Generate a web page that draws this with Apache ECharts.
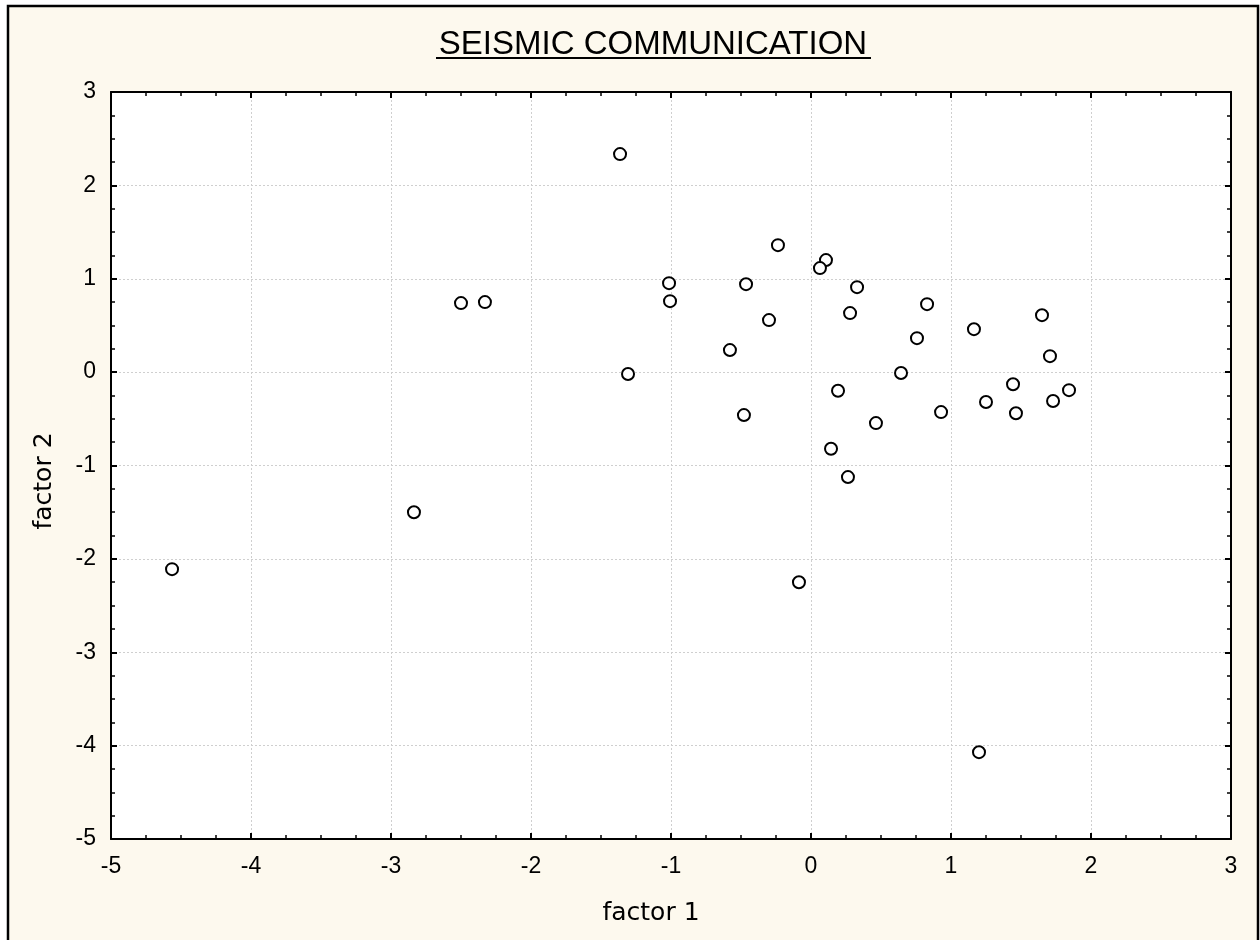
<!DOCTYPE html>
<html>
<head>
<meta charset="utf-8">
<script src="https://cdn.jsdelivr.net/npm/echarts@6/dist/echarts.min.js"></script>
<style>
html,body{margin:0;padding:0;background:#ffffff;}
#chart{width:1260px;height:940px;}
</style>
</head>
<body>
<div id="chart"></div>
<script>
const titleText = 'SEISMIC COMMUNICATION';
const xName = 'factor 1';
const yName = 'factor 2';
const xTicks = [-5, -4, -3, -2, -1, 0, 1, 2, 3];
const yTicks = [-5, -4, -3, -2, -1, 0, 1, 2, 3];
const factor1 = [-1.364, -2.500, -2.329, -1.014, -1.007, -1.307, -2.836, -4.564, -0.236, 0.107,
                 0.064, -0.464, 0.329, -0.300, 0.279, 0.829, -0.579, 0.757, 1.164, 1.650,
                 1.707, 0.643, 0.193, -0.479, 0.464, 0.929, 1.250, 1.443, 1.464, 1.729,
                 1.843, 0.143, 0.264, -0.086, 1.200];
const factor2 = [2.335, 0.739, 0.750, 0.953, 0.760, -0.020, -1.500, -2.110, 1.360, 1.200,
                 1.114, 0.942, 0.910, 0.557, 0.632, 0.728, 0.236, 0.364, 0.460, 0.610,
                 0.171, -0.010, -0.200, -0.460, -0.546, -0.428, -0.320, -0.130, -0.440, -0.310,
                 -0.193, -0.820, -1.124, -2.250, -4.070];

const points = factor1.map((x, i) => [x, factor2[i]]);

const chart = echarts.init(document.getElementById('chart'), null, {renderer: 'canvas'});

const tickFont = {color: '#000', fontSize: 23, fontFamily: 'Liberation Sans, Arial, sans-serif'};
const nameFont = 'DejaVu Sans, Verdana, sans-serif';

function mkAxis(pos, isX, show) {
  const ticks = isX ? xTicks : yTicks;
  return {
    type: 'value',
    position: pos,
    min: ticks[0],
    max: ticks[ticks.length - 1],
    interval: 1,
    axisLine: {show: true, onZero: false, lineStyle: {color: '#000', width: 2}},
    axisTick: {show: true, inside: true, length: 6, lineStyle: {color: '#000', width: 2}},
    minorTick: {show: true, splitNumber: 4, length: 4, lineStyle: {color: '#000', width: 1.5}},
    splitLine: {show: show, lineStyle: {color: '#cfcfcf', type: [2, 2], width: 1}},
    axisLabel: show ? Object.assign({show: true, margin: isX ? 16 : 15}, tickFont) : {show: false}
  };
}

const option = {
  backgroundColor: '#ffffff',
  animation: false,
  graphic: [
    {type: 'rect', z: -10, silent: true, shape: {x: 8, y: 6, width: 1250, height: 950},
     style: {fill: '#fdf9ee', stroke: '#000', lineWidth: 2.5}},
    {type: 'rect', z: -5, silent: true, shape: {x: 111, y: 92, width: 1120, height: 747},
     style: {fill: '#ffffff'}},
    {type: 'text', x: 653, y: 45, style: {text: titleText, fill: '#000', fontSize: 33,
      fontFamily: 'Liberation Sans, Arial, sans-serif', align: 'center', verticalAlign: 'middle'}},
    {type: 'line', shape: {x1: 436, y1: 58, x2: 871, y2: 58}, style: {stroke: '#000', lineWidth: 2}},
    {type: 'text', x: 651, y: 913, style: {text: xName, fill: '#000', fontSize: 25,
      fontFamily: nameFont, align: 'center', verticalAlign: 'middle'}},
    {type: 'text', x: 44, y: 481, rotation: Math.PI / 2, style: {text: yName, fill: '#000', fontSize: 25,
      fontFamily: nameFont, align: 'center', verticalAlign: 'middle'}}
  ],
  grid: {left: 111, top: 92, right: 29, bottom: 101, containLabel: false},
  xAxis: [mkAxis('bottom', true, true), mkAxis('top', true, false)],
  yAxis: [mkAxis('left', false, true), mkAxis('right', false, false)],
  series: [{
    type: 'scatter',
    data: points,
    symbol: 'circle',
    symbolSize: 12,
    itemStyle: {color: '#ffffff', borderColor: '#000', borderWidth: 2, opacity: 1},
    emphasis: {disabled: true}
  }]
};
chart.setOption(option);
</script>
</body>
</html>
